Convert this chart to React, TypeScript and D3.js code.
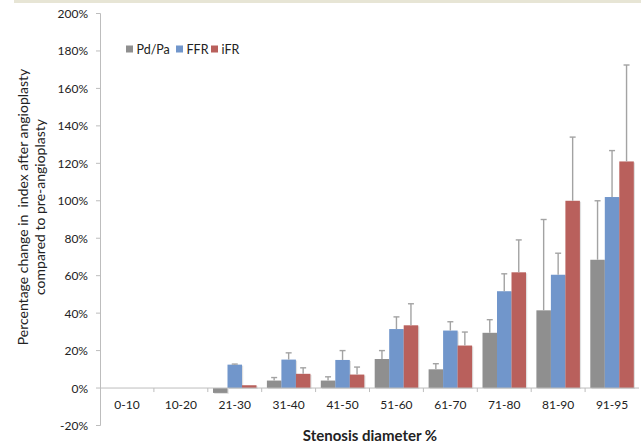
import React from "react";
import * as d3 from "d3";

const categories = ["0-10", "10-20", "21-30", "31-40", "41-50", "51-60", "61-70", "71-80", "81-90", "91-95"];
const seriesNames = ["Pd/Pa", "FFR", "iFR"];
const pdpa = [0, 0, -2.6, 4, 4, 15.5, 10, 29.5, 41.5, 68.5];
const pdpaErr = [0, 0, 0, 1.6, 2, 4.5, 3, 7, 48.5, 31.5];
const ffr = [0, 0, 12.5, 15.2, 15, 31.5, 30.7, 51.7, 60.5, 102];
const ffrErr = [0, 0, 0.3, 3.6, 5, 6.5, 4.7, 9.3, 11.5, 24.8];
const ifr = [0, 0, 1.5, 7.6, 7.2, 33.5, 22.7, 61.8, 100, 121];
const ifrErr = [0, 0, 0, 3.2, 4, 11.5, 7.2, 17.3, 34, 51.5];
const yTicks = [-20, 0, 20, 40, 60, 80, 100, 120, 140, 160, 180, 200];
const colors = ["#8f8f8f", "#7196cb", "#b9605c"];

const W = 641;
const H = 445;
const FONT = "Lato, 'Open Sans', sans-serif";

export default function App() {
  const x = d3.scaleBand<string>().domain(categories).range([100, 639]).paddingInner(0).paddingOuter(0);
  const y = d3.scaleLinear().domain([-20, 200]).range([425.5, 13.5]);
  const bw = x.bandwidth();
  const barW = 14.5;
  const xs = d3
    .scaleBand<string>()
    .domain(seriesNames)
    .range([(bw - barW * 3) / 2, (bw + barW * 3) / 2])
    .padding(0);
  const values = [pdpa, ffr, ifr];
  const errs = [pdpaErr, ffrErr, ifrErr];
  const y0 = y(0);

  return (
    <svg width={W} height={H} style={{ position: "absolute", left: 0, top: 0 }}>
      <rect x={0} y={0} width={W} height={H} fill="#ffffff" />
      <rect x={14} y={0} width={W - 14} height={3} fill="#e7e5d5" />

      {/* y axis */}
      <line x1={100.5} x2={100.5} y1={y(200)} y2={y(-20)} stroke="#bdbdbd" strokeWidth={1} />
      {yTicks.map((t) => (
        <g key={t}>
          <line x1={96} x2={100.5} y1={y(t)} y2={y(t)} stroke="#bdbdbd" strokeWidth={1} />
          <text x={88} y={y(t) + 4.5} textAnchor="end" fontFamily={FONT} fontSize={12} fill="#222">
            {t + "%"}
          </text>
        </g>
      ))}

      {/* bars */}
      {categories.map((c, i) => (
        <g key={c} transform={`translate(${x(c)},0)`}>
          {seriesNames.map((s, k) => {
            const v = values[k][i];
            if (v === 0) return null;
            const bx = xs(s)!;
            const top = Math.min(y(v), y0);
            const h = Math.abs(y(v) - y0);
            return (
              <g key={s}>
                <rect x={bx + 1.2} y={top + 1} width={barW} height={h} fill="#000" opacity={0.12} />
                <rect x={bx} y={top} width={barW} height={h} fill={colors[k]} />
              </g>
            );
          })}
          {seriesNames.map((s, k) => {
            const v = values[k][i];
            const e = errs[k][i];
            if (v === 0 || e === 0) return null;
            const cx = xs(s)! + barW / 2;
            return (
              <g key={s + "e"} stroke="#a3a3a3" strokeWidth={1.4}>
                <line x1={cx} x2={cx} y1={y(v)} y2={y(v + e)} />
                <line x1={cx - 3} x2={cx + 3} y1={y(v + e)} y2={y(v + e)} />
              </g>
            );
          })}
        </g>
      ))}

      {/* x axis */}
      <line x1={100} x2={639} y1={y0} y2={y0} stroke="#bdbdbd" strokeWidth={1} />
      {categories.map((c, i) => (
        <g key={c + "t"}>
          {i > 0 && <line x1={x(c)} x2={x(c)} y1={y0} y2={y0 + 4} stroke="#bdbdbd" strokeWidth={1} />}
          <text x={x(c)! + bw / 2} y={409} textAnchor="middle" fontFamily={FONT} fontSize={12} fill="#222">
            {c}
          </text>
        </g>
      ))}

      {/* legend */}
      {seriesNames.map((s, k) => {
        const lx = [126, 176, 211][k];
        return (
          <g key={s + "l"}>
            <rect x={lx} y={45.5} width={7} height={7} fill={colors[k]} />
            <text x={lx + 10.5} y={53.5} fontFamily={FONT} fontSize={12.5} fill="#222">
              {s}
            </text>
          </g>
        );
      })}

      {/* axis titles */}
      <g transform="translate(0,207) rotate(-90)" fontFamily={FONT} fontSize={14} fill="#222" textAnchor="middle">
        <text x={0} y={27.5} xmlSpace="preserve">Percentage change in  index after angioplasty</text>
        <text x={0} y={44.5}>compared to pre-angioplasty</text>
      </g>
      <text x={370} y={441} textAnchor="middle" fontFamily={FONT} fontSize={15} fontWeight="bold" fill="#222">
        Stenosis diameter %
      </text>
    </svg>
  );
}
